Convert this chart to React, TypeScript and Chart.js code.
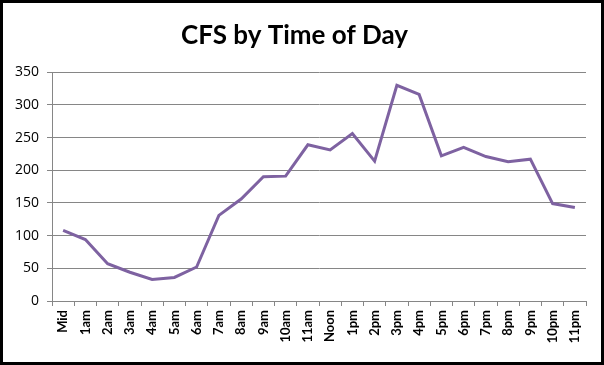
import React, { useEffect, useRef } from "react";
import { Chart, registerables } from "chart.js";

Chart.register(...registerables);

const categories = ["Mid","1am","2am","3am","4am","5am","6am","7am","8am","9am","10am","11am","Noon","1pm","2pm","3pm","4pm","5pm","6pm","7pm","8pm","9pm","10pm","11pm"];
const cfsValues = [108, 94, 57, 44, 33, 36, 52, 131, 156, 190, 191, 239, 231, 256, 214, 330, 316, 222, 235, 221, 213, 217, 149, 143];
const yTicks = [0, 50, 100, 150, 200, 250, 300, 350];

export default function App() {
  const ref = useRef<HTMLCanvasElement | null>(null);
  useEffect(() => {
    document.body.style.margin = "0";
    const chart = new Chart(ref.current!, {
      type: "line",
      data: {
        labels: categories,
        datasets: [{
          label: "CFS",
          data: cfsValues,
          borderColor: "#7E62A1",
          backgroundColor: "#7E62A1",
          borderWidth: 3,
          pointRadius: 0,
          tension: 0,
        }],
      },
      options: {
        animation: false,
        responsive: false,
        layout: { padding: { left: 0, right: 15, top: 0, bottom: 0 } },
        plugins: {
          legend: { display: false },
          tooltip: { enabled: false },
          title: {
            display: true,
            text: "CFS by Time of Day",
            color: "#000",
            font: { family: "Lato", size: 26, weight: "bold", lineHeight: 1.2 },
            padding: { top: 17, bottom: 21 },
          },
        },
        scales: {
          x: {
            offset: true,
            grid: { offset: true, drawOnChartArea: false, tickLength: 5, color: "#868686" },
            border: { color: "#868686", width: 1 },
            ticks: {
              maxRotation: 90,
              minRotation: 90,
              autoSkip: false,
              color: "#000",
              padding: 4,
              font: { family: "Lato", size: 13, weight: "bold" },
            },
            afterFit: (axis: any) => { axis.height = 61; },
          },
          y: {
            min: 0,
            max: 350,
            afterBuildTicks: (axis: any) => { axis.ticks = yTicks.map((v) => ({ value: v })); },
            grid: { color: "#868686", tickLength: 5, lineWidth: 1 },
            border: { color: "#868686", width: 1 },
            ticks: {
              color: "#000",
              padding: 8,
              font: { family: "Open Sans", size: 14 },
            },
            afterFit: (axis: any) => { axis.width = 49; },
          },
        },
      },
    });
    return () => chart.destroy();
  }, []);
  return (
    <div style={{ position: "fixed", left: 0, top: 0, width: 604, height: 365, boxSizing: "border-box", border: "3px solid #000", background: "#fff" }}>
      <canvas ref={ref} width={598} height={359} style={{ display: "block" }} />
    </div>
  );
}
